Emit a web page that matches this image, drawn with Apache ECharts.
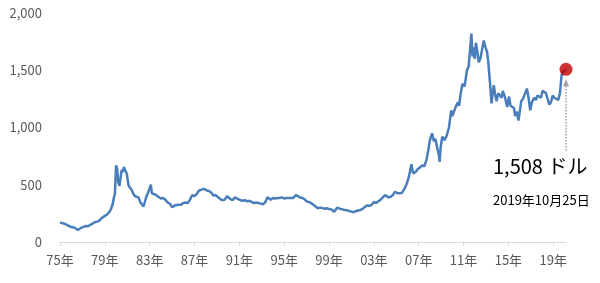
<!DOCTYPE html>
<html><head><meta charset="utf-8">
<script src="https://cdn.jsdelivr.net/npm/echarts@6/dist/echarts.min.js"></script>
<style>html,body{margin:0;padding:0;background:#fff}#c{width:600px;height:283px}</style>
</head><body><div id="c"></div>
<script>
// Positions along the time axis (year) and gold price (USD/oz)
const years = [
1975.0,1975.2,1975.4,1975.6,1975.8,1976.0,1976.2,1976.4,1976.6,1976.75,1976.9,1977.1,1977.3,1977.5,1977.7,1977.9,
1978.1,1978.3,1978.5,1978.7,1978.85,1979.0,1979.2,1979.4,1979.55,1979.7,1979.8,1979.9,1980.0,1980.1,1980.2,1980.3,
1980.4,1980.5,1980.6,1980.7,1980.8,1980.95,1981.1,1981.2,1981.4,1981.55,1981.7,1981.85,1982.0,1982.15,1982.3,1982.45,
1982.55,1982.7,1982.85,1983.0,1983.1,1983.2,1983.35,1983.5,1983.7,1983.85,1984.0,1984.2,1984.4,1984.6,1984.8,1985.0,
1985.1,1985.25,1985.4,1985.6,1985.8,1986.0,1986.2,1986.4,1986.6,1986.8,1987.0,1987.2,1987.4,1987.6,1987.8,1987.95,
1988.1,1988.3,1988.5,1988.7,1988.9,1989.1,1989.3,1989.5,1989.7,1989.9,1990.05,1990.2,1990.4,1990.6,1990.75,1990.9,
1991.1,1991.3,1991.5,1991.7,1991.9,1992.1,1992.3,1992.5,1992.7,1992.9,1993.1,1993.3,1993.5,1993.6,1993.8,1994.0,
1994.2,1994.4,1994.6,1994.8,1995.0,1995.2,1995.4,1995.6,1995.8,1996.05,1996.2,1996.4,1996.6,1996.8,1997.0,1997.2,
1997.4,1997.6,1997.8,1998.0,1998.2,1998.4,1998.6,1998.8,1999.0,1999.2,1999.45,1999.6,1999.75,1999.85,2000.0,2000.2,
2000.4,2000.6,2000.8,2001.0,2001.2,2001.4,2001.6,2001.8,2002.0,2002.2,2002.4,2002.6,2002.8,2003.0,2003.2,2003.4,
2003.6,2003.8,2004.0,2004.1,2004.3,2004.5,2004.7,2004.9,2005.1,2005.3,2005.5,2005.7,2005.9,2006.1,2006.35,2006.5,
2006.7,2006.9,2007.1,2007.3,2007.5,2007.7,2007.85,2008.0,2008.2,2008.35,2008.5,2008.65,2008.8,2008.87,2008.95,2009.1,
2009.3,2009.5,2009.7,2009.9,2010.0,2010.15,2010.3,2010.5,2010.6,2010.75,2010.9,2011.1,2011.3,2011.45,2011.6,2011.7,
2011.8,2011.9,2012.0,2012.1,2012.25,2012.35,2012.5,2012.65,2012.8,2012.95,2013.1,2013.2,2013.35,2013.5,2013.6,2013.7,
2013.8,2013.95,2014.1,2014.25,2014.4,2014.5,2014.65,2014.8,2014.9,2015.05,2015.2,2015.35,2015.5,2015.6,2015.75,2015.9,
2016.0,2016.15,2016.3,2016.5,2016.65,2016.8,2016.95,2017.1,2017.3,2017.45,2017.6,2017.75,2017.9,2018.05,2018.2,2018.35,
2018.5,2018.65,2018.8,2018.95,2019.1,2019.25,2019.45,2019.6,2019.75,2019.9,2020.14
];
const prices = [
170,165,160,150,140,130,128,118,105,112,125,132,140,138,150,160,
172,178,185,208,200,228,240,262,288,330,385,420,670,640,520,490,
560,630,610,655,630,600,500,480,455,420,400,410,390,350,330,310,
320,395,430,470,500,425,430,415,400,385,380,385,370,345,335,305,
290,320,315,325,325,340,345,340,370,410,400,420,450,455,465,480,
450,445,430,405,410,390,375,365,370,400,410,375,365,390,380,375,
365,360,365,355,360,350,340,345,340,335,330,345,390,375,370,385,
380,385,385,390,380,385,385,385,385,410,395,390,385,375,355,350,
340,325,310,295,300,298,290,295,288,285,265,258,300,295,290,285,
280,278,270,265,260,270,275,280,290,305,320,315,325,350,340,355,
370,390,410,420,390,395,410,440,425,425,430,460,500,560,680,600,
610,635,650,670,660,720,800,890,950,880,900,820,760,700,820,920,
890,930,1000,1150,1100,1110,1180,1220,1190,1300,1380,1360,1500,1530,1700,1820,
1620,1700,1600,1740,1650,1570,1600,1680,1760,1700,1660,1580,1400,1210,1300,1370,
1300,1230,1300,1290,1260,1320,1280,1220,1180,1270,1190,1200,1170,1100,1140,1060,
1070,1230,1250,1300,1340,1260,1150,1220,1260,1240,1280,1270,1260,1320,1330,1300,
1250,1200,1220,1280,1260,1250,1240,1300,1460,1490,1508
];
const yTicks = [0, 500, 1000, 1500, 2000];
const xTickYears = [1975,1979,1983,1987,1991,1995,1999,2003,2007,2011,2015,2019];
const lastLabel = '1,508 ドル';
const lastDate = '2019年10月25日';

const BASE = 1975;
const seriesData = years.map((y, i) => [y - BASE, prices[i]]);
const last = seriesData[seriesData.length - 1];
const tickOffsets = xTickYears.map(y => y - BASE);
const FONT = '"Noto Sans CJK JP", "Noto Sans", sans-serif';

const chart = echarts.init(document.getElementById('c'), null, {renderer: 'canvas'});
chart.setOption({
  animation: false,
  backgroundColor: '#ffffff',
  grid: {left: 60, right: 34, top: 13, bottom: 41, containLabel: false},
  xAxis: {
    type: 'value', min: 0, max: last[0], interval: 4,
    axisLine: {show: true, lineStyle: {color: '#d9d9d9', width: 1}},
    axisTick: {show: true, length: 4, lineStyle: {color: '#d9d9d9'}, customValues: tickOffsets},
    axisLabel: {
      customValues: tickOffsets,
      margin: 12, fontSize: 13, color: '#595959', fontFamily: FONT,
      formatter: v => {
        if (Math.abs(v % 4) > 1e-6) return '';
        const y = (BASE + v) % 100;
        return (y < 10 ? '0' : '') + y + '年';
      }
    },
    splitLine: {show: false}
  },
  yAxis: {
    type: 'value', min: yTicks[0], max: yTicks[yTicks.length - 1], interval: 500,
    axisLine: {show: false}, axisTick: {show: false}, splitLine: {show: false},
    axisLabel: {margin: 18, fontSize: 13, color: '#595959', fontFamily: FONT,
      formatter: v => v.toLocaleString('en-US')}
  },
  series: [
    {
      type: 'line', data: seriesData, showSymbol: false, smooth: false,
      lineStyle: {color: '#4a7ebb', width: 2.5}, z: 2
    },
    {
      type: 'scatter', data: [last], symbolSize: 13,
      itemStyle: {color: '#c00000'}, z: 4,
      markLine: {
        silent: true, symbol: ['none', 'triangle'], symbolSize: [6, 7],
        label: {show: false},
        itemStyle: {color: '#a0a0a0'},
        lineStyle: {type: 'dotted', color: '#a0a0a0', width: 1.5},
        emphasis: {disabled: true},
        data: [[{coord: [last[0], 800]}, {coord: [last[0], 1390]}]]
      }
    }
  ],
  graphic: [
    {type: 'text', left: 493, top: 156, style: {text: lastLabel, fontSize: 20, fill: '#000', fontFamily: FONT}},
    {type: 'text', left: 493, top: 194, style: {text: lastDate, fontSize: 13, fill: '#000', fontFamily: FONT}}
  ]
});
</script></body></html>
